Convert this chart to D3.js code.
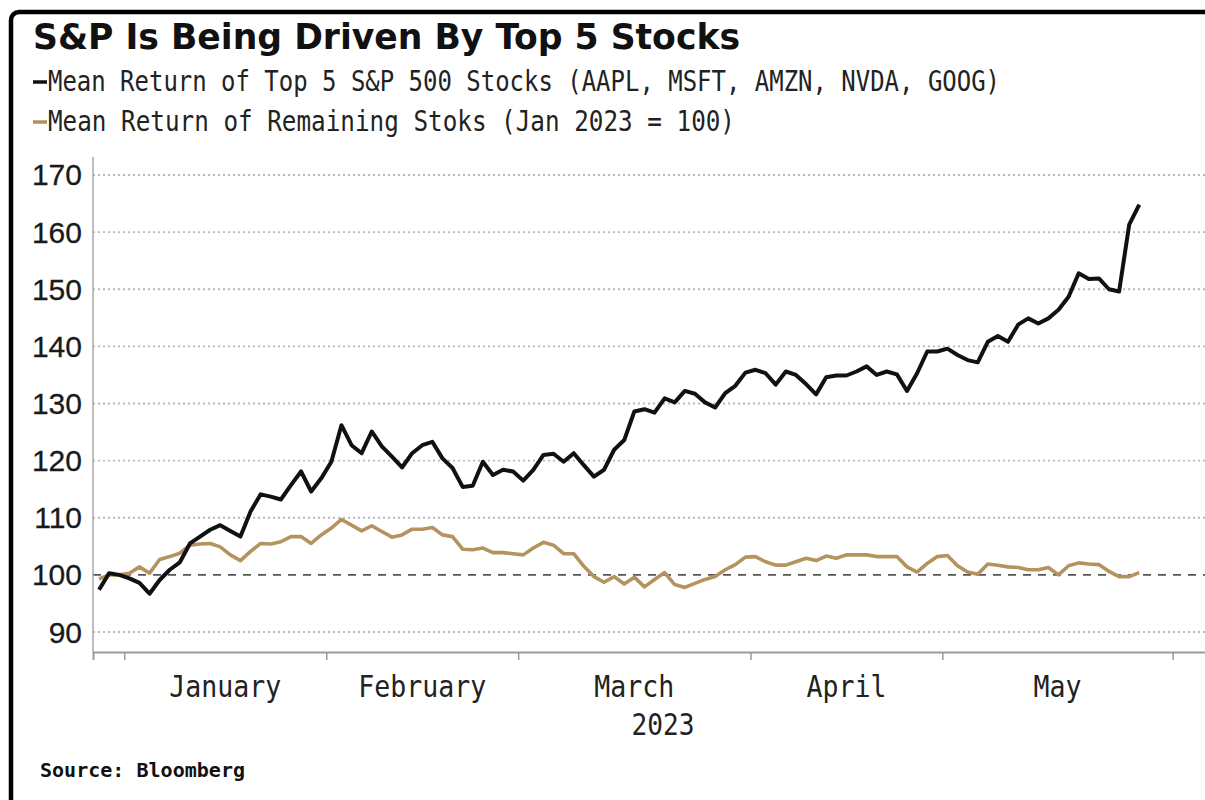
<!DOCTYPE html>
<html>
<head>
<meta charset="utf-8">
<script src="https://cdn.jsdelivr.net/npm/d3@7"></script>
<style>
  html, body { margin: 0; padding: 0; background: #fff; overflow: hidden; }
</style>
</head>
<body>
<div id="chart"></div>
<script>
const width = 1205;
const height = 800;

// trading-day index 0 = Dec 28 2022 ... 103 = May 26 2023
const top5 = [
    97.4, 100.3, 100.0, 99.4, 98.6, 96.7, 99.1, 100.9, 102.2, 105.5,
    106.7, 107.9, 108.7, 107.7, 106.7, 111.1, 114.1, 113.7, 113.2, 115.7,
    118.1, 114.6, 116.9, 119.8, 126.2, 122.7, 121.3, 125.1, 122.5, 120.7,
    118.8, 121.3, 122.7, 123.3, 120.4, 118.7, 115.4, 115.6, 119.8, 117.5,
    118.4, 118.1, 116.5, 118.4, 121.0, 121.2, 119.8, 121.3, 119.2, 117.2,
    118.4, 121.9, 123.6, 128.6, 129.0, 128.4, 130.9, 130.2, 132.2, 131.7,
    130.2, 129.3, 131.8, 133.1, 135.4, 135.9, 135.3, 133.3, 135.6, 135.0,
    133.4, 131.6, 134.6, 134.9, 134.9, 135.6, 136.5, 135.0, 135.6, 135.1,
    132.2, 135.3, 139.1, 139.1, 139.6, 138.5, 137.6, 137.2, 140.8, 141.8,
    140.8, 143.8, 144.9, 144.0, 144.9, 146.4, 148.7, 152.8, 151.8, 151.9,
    150.0, 149.6, 161.3, 164.8
];

const remaining = [
    99.3, 100.0, 100.0, 100.3, 101.4, 100.3, 102.7, 103.2, 103.8, 105.2,
    105.4, 105.5, 104.9, 103.5, 102.5, 104.1, 105.5, 105.4, 105.8, 106.7,
    106.7, 105.5, 107.0, 108.2, 109.7, 108.7, 107.7, 108.6, 107.6, 106.6,
    107.0, 108.0, 108.0, 108.3, 107.0, 106.7, 104.5, 104.4, 104.7, 103.9,
    103.9, 103.7, 103.5, 104.7, 105.7, 105.2, 103.7, 103.7, 101.5, 99.7,
    98.7, 99.7, 98.4, 99.6, 97.9, 99.2, 100.4, 98.3, 97.8, 98.5,
    99.2, 99.7, 100.9, 101.8, 103.1, 103.2, 102.3, 101.7, 101.7, 102.3,
    102.9, 102.5, 103.3, 102.9, 103.5, 103.5, 103.5, 103.2, 103.2, 103.2,
    101.4, 100.5, 102.0, 103.2, 103.4, 101.6, 100.5, 100.1, 101.9, 101.7,
    101.4, 101.3, 100.9, 100.9, 101.3, 100.0, 101.6, 102.1, 101.9, 101.8,
    100.6, 99.7, 99.7, 100.4
];

const months = ['January', 'February', 'March', 'April', 'May'];
// month boundaries on the trading-day index
const monthBreaks = [2.5, 22.5, 41.5, 64.5, 83.5, 106.3];
const yTicks = [90, 100, 110, 120, 130, 140, 150, 160, 170];

const title = 'S&P Is Being Driven By Top 5 Stocks';
const legendTop5 = 'Mean Return of Top 5 S&P 500 Stocks (AAPL, MSFT, AMZN, NVDA, GOOG)';
const legendRest = 'Mean Return of Remaining Stoks (Jan 2023 = 100)';

const black = '#111';
const tan = '#b5935f';
const mono = '"DejaVu Sans Mono", "Liberation Mono", monospace';

drawChart();

function drawChart() {
    const svg = d3.select('#chart')
        .append('svg')
        .attr('width', width)
        .attr('height', height);

    svg.append('rect')
        .attr('width', width)
        .attr('height', height)
        .attr('fill', '#fff');

    // frame round the whole chart
    svg.append('rect')
        .attr('x', 11)
        .attr('y', 12)
        .attr('width', 1300)
        .attr('height', 900)
        .attr('rx', 8)
        .attr('fill', 'none')
        .attr('stroke', '#000')
        .attr('stroke-width', 4.5);

    const x = d3.scaleLinear()
        .domain([-0.6, 110.1])
        .range([93, 1211]);

    const y = d3.scaleLinear()
        .domain([86.5, 173.15])
        .range([652, 157]);

    // grid
    svg.append('g')
        .selectAll('line')
        .data(yTicks)
        .enter()
        .append('line')
        .attr('x1', x.range()[0])
        .attr('x2', x.range()[1])
        .attr('y1', d => y(d))
        .attr('y2', d => y(d))
        .attr('stroke', d => d === 100 ? '#555' : '#b8b8b8')
        .attr('stroke-width', d => d === 100 ? 1.6 : 1.8)
        .attr('stroke-dasharray', d => d === 100 ? '8,7' : '2,3');

    // axis lines
    svg.append('line')
        .attr('x1', 93).attr('x2', 93)
        .attr('y1', 157).attr('y2', 652)
        .attr('stroke', '#a8a8a8')
        .attr('stroke-width', 1.5);

    const xAxis = d3.axisBottom(x)
        .tickValues(monthBreaks)
        .tickSize(8)
        .tickFormat('');

    const gx = svg.append('g')
        .attr('transform', 'translate(0, 652)')
        .call(xAxis);
    gx.select('.domain')
        .attr('stroke', '#9a9a9a')
        .attr('stroke-width', 2);
    gx.selectAll('.tick line')
        .attr('stroke', '#9a9a9a')
        .attr('stroke-width', 1.5);

    // y labels
    svg.append('g')
        .selectAll('text')
        .data(yTicks)
        .enter()
        .append('text')
        .attr('x', 82)
        .attr('y', d => y(d) + 10.5)
        .attr('text-anchor', 'end')
        .attr('font-family', '"Liberation Sans", Arial, sans-serif')
        .attr('font-size', 30)
        .attr('fill', '#1a1a1a')
        .attr('stroke', '#1a1a1a')
        .attr('stroke-width', 0.3)
        .text(d => d);

    // month labels, centred inside each month
    svg.append('g')
        .selectAll('text')
        .data(months)
        .enter()
        .append('text')
        .attr('x', (d, i) => (x(monthBreaks[i]) + x(monthBreaks[i + 1])) / 2)
        .attr('y', 697)
        .attr('text-anchor', 'middle')
        .attr('font-family', mono)
        .attr('font-size', 31)
        .attr('fill', '#222')
        .attr('textLength', d => d.length * 16)
        .attr('lengthAdjust', 'spacingAndGlyphs')
        .text(d => d);

    svg.append('text')
        .attr('x', 663)
        .attr('y', 735)
        .attr('text-anchor', 'middle')
        .attr('font-family', mono)
        .attr('font-size', 31)
        .attr('fill', '#222')
        .attr('textLength', 63)
        .attr('lengthAdjust', 'spacingAndGlyphs')
        .text('2023');

    // lines
    const line = d3.line()
        .x((d, i) => x(i))
        .y(d => y(d));

    svg.append('path')
        .datum(remaining)
        .attr('d', line)
        .attr('fill', 'none')
        .attr('stroke', tan)
        .attr('stroke-width', 3.6)
        .attr('stroke-linejoin', 'round');

    svg.append('path')
        .datum(top5)
        .attr('d', line)
        .attr('fill', 'none')
        .attr('stroke', black)
        .attr('stroke-width', 4)
        .attr('stroke-linejoin', 'round');

    // title
    svg.append('text')
        .attr('x', 33)
        .attr('y', 49)
        .attr('font-family', '"Liberation Sans Narrow", "DejaVu Sans Condensed", "Liberation Sans", sans-serif')
        .attr('font-weight', 'bold')
        .attr('font-size', 35)
        .attr('fill', '#111')
        .attr('textLength', 707)
        .attr('lengthAdjust', 'spacingAndGlyphs')
        .text(title);

    // legend
    const legend = svg.append('g');
    const items = [
        { label: legendTop5, color: black, y: 91, w: 952 },
        { label: legendRest, color: tan, y: 131, w: 687 }
    ];
    items.forEach(item => {
        legend.append('line')
            .attr('x1', 33).attr('x2', 47)
            .attr('y1', item.y - 9).attr('y2', item.y - 9)
            .attr('stroke', item.color)
            .attr('stroke-width', 3.5);
        legend.append('text')
            .attr('x', 48)
            .attr('y', item.y)
            .attr('font-family', mono)
            .attr('font-size', 29)
            .attr('fill', '#222')
            .attr('textLength', item.w)
            .attr('lengthAdjust', 'spacingAndGlyphs')
            .text(item.label);
    });

    // source
    svg.append('text')
        .attr('x', 40)
        .attr('y', 777)
        .attr('font-family', mono)
        .attr('font-weight', 'bold')
        .attr('font-size', 19)
        .attr('fill', '#111')
        .attr('textLength', 205)
        .attr('lengthAdjust', 'spacingAndGlyphs')
        .text('Source: Bloomberg');
}
</script>
</body>
</html>
